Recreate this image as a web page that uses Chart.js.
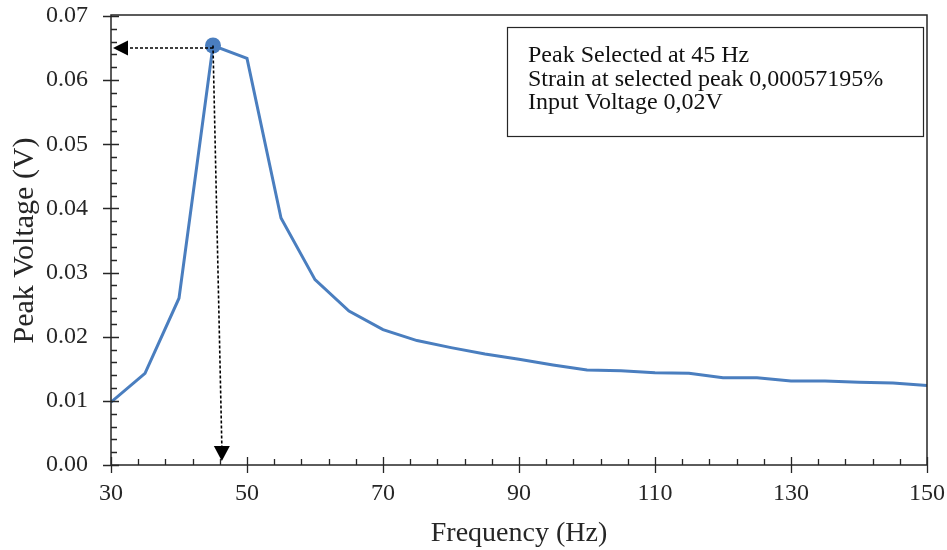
<!DOCTYPE html>
<html>
<head>
<meta charset="utf-8">
<script src="https://cdn.jsdelivr.net/npm/chart.js@4.4.1/dist/chart.umd.min.js"></script>
<style>
  html, body { margin: 0; padding: 0; background: #fff; }
  #wrap { width: 947px; height: 550px; }
</style>
</head>
<body>
<div id="wrap"><canvas id="peakChart" width="947" height="550"></canvas></div>
<script>
// frequency sweep, one reading every 5 Hz
const frequencies = [30, 35, 40, 45, 50, 55, 60, 65, 70, 75, 80, 85, 90, 95, 100,
                     105, 110, 115, 120, 125, 130, 135, 140, 145, 150];
const peakVoltages = [0.0098, 0.0143, 0.0260, 0.0654, 0.0634, 0.0385, 0.0289, 0.0240,
                      0.0211, 0.0194, 0.0183, 0.0173, 0.0165, 0.0156, 0.0148, 0.0147,
                      0.0144, 0.0143, 0.0136, 0.0136, 0.0131, 0.0131, 0.0129, 0.0128, 0.0124];

const xTickValues = [30, 50, 70, 90, 110, 130, 150];
const yTickValues = [0, 0.01, 0.02, 0.03, 0.04, 0.05, 0.06, 0.07];

const selectedFreq = 45;
const arrowLevel = 0.0650;     // where the horizontal arrow meets the axis
const arrowFreqEnd = 46.3;     // where the vertical arrow meets the axis
const noteLines = [
    'Peak Selected at 45 Hz',
    'Strain at selected peak 0,00057195%',
    'Input Voltage 0,02V'
];

const peakIndex = frequencies.indexOf(selectedFreq);
const lineColor = '#4a7ebf';
const inkColor = '#262626';
const serif = 'Liberation Serif';

// frame, tick marks (major cross the axis, minor inside only)
const framePlugin = {
    id: 'frame',
    afterDraw(chart) {
        const { ctx, chartArea: a, scales: { x, y } } = chart;
        ctx.save();
        ctx.strokeStyle = inkColor;
        ctx.lineWidth = 1.5;
        ctx.strokeRect(a.left, a.top - 1, a.right - a.left, a.bottom - a.top + 1);

        ctx.lineWidth = 1.3;
        ctx.beginPath();
        for (let v = 0; v <= 0.0701; v += 0.002) {
            const py = Math.round(y.getPixelForValue(v)) + 0.5;
            const major = Math.abs(v / 0.01 - Math.round(v / 0.01)) < 1e-6;
            ctx.moveTo(a.left - (major ? 8 : 0), py);
            ctx.lineTo(a.left + (major ? 8 : 6), py);
        }
        for (let f = 30; f <= 150; f += 4) {
            const px = Math.round(x.getPixelForValue(f)) + 0.5;
            const major = (f - 30) % 20 === 0;
            ctx.moveTo(px, a.bottom + (major ? 8 : 0));
            ctx.lineTo(px, a.bottom - (major ? 8 : 6));
        }
        ctx.stroke();

        // note box
        const bx = a.right - 420, by = a.top + 11, bw = 416, bh = 109;
        ctx.fillStyle = '#fff';
        ctx.fillRect(bx, by, bw, bh);
        ctx.lineWidth = 1.2;
        ctx.strokeRect(bx + 0.5, by + 0.5, bw, bh);
        ctx.fillStyle = '#111';
        ctx.font = '24px "' + serif + '"';
        ctx.textAlign = 'left';
        ctx.textBaseline = 'alphabetic';
        noteLines.forEach((t, i) => ctx.fillText(t, bx + 21, by + 35 + i * 23.5));
        ctx.restore();
    }
};

// dashed arrows from the selected peak to both axes
const arrowPlugin = {
    id: 'peakArrows',
    afterDatasetsDraw(chart) {
        const { ctx, scales: { x, y } } = chart;
        const px = x.getPixelForValue(selectedFreq);
        const py = y.getPixelForValue(peakVoltages[peakIndex]);
        const hy = y.getPixelForValue(arrowLevel);
        const hx = x.getPixelForValue(30) + 2;
        const vx = x.getPixelForValue(arrowFreqEnd);
        const vy = y.getPixelForValue(0) - 4;

        ctx.save();
        ctx.strokeStyle = '#000';
        ctx.fillStyle = '#000';
        ctx.lineWidth = 1.6;
        ctx.setLineDash([3, 2]);
        ctx.beginPath();
        ctx.moveTo(px, hy);
        ctx.lineTo(hx + 15, hy);
        ctx.moveTo(px, py);
        ctx.lineTo(vx, vy - 15);
        ctx.stroke();
        ctx.setLineDash([]);

        ctx.beginPath();
        ctx.moveTo(hx, hy);
        ctx.lineTo(hx + 15, hy - 7.5);
        ctx.lineTo(hx + 15, hy + 7.5);
        ctx.closePath();
        ctx.fill();

        ctx.beginPath();
        ctx.moveTo(vx, vy);
        ctx.lineTo(vx - 8, vy - 15);
        ctx.lineTo(vx + 8, vy - 15);
        ctx.closePath();
        ctx.fill();
        ctx.restore();
    }
};

new Chart(document.getElementById('peakChart'), {
    type: 'line',
    data: {
        datasets: [{
            data: frequencies.map((f, i) => ({ x: f, y: peakVoltages[i] })),
            borderColor: lineColor,
            backgroundColor: lineColor,
            borderWidth: 3,
            tension: 0,
            pointRadius: ctx => ctx.dataIndex === peakIndex ? 8 : 0,
            pointBorderWidth: 0,
            pointBackgroundColor: lineColor
        }]
    },
    options: {
        responsive: false,
        animation: false,
        devicePixelRatio: 1,
        layout: { padding: { top: 16, right: 20, left: 0, bottom: 0 } },
        scales: {
            x: {
                type: 'linear',
                min: 30,
                max: 150,
                afterBuildTicks: s => { s.ticks = xTickValues.map(v => ({ value: v })); },
                afterFit: s => { s.height = 85; s.paddingLeft = 0; s.paddingRight = 0; },
                grid: { display: false, drawTicks: false },
                border: { display: false },
                ticks: {
                    padding: 14,
                    color: inkColor,
                    font: { family: serif, size: 24 }
                },
                title: {
                    display: true,
                    text: 'Frequency (Hz)',
                    color: inkColor,
                    font: { family: serif, size: 28 },
                    padding: { top: 0, bottom: 0 }
                }
            },
            y: {
                min: 0,
                max: 0.07,
                afterBuildTicks: s => { s.ticks = yTickValues.map(v => ({ value: v })); },
                afterFit: s => { s.width = 111; s.paddingTop = 0; s.paddingBottom = 0; },
                grid: { display: false, drawTicks: false },
                border: { display: false },
                ticks: {
                    padding: 23,
                    color: inkColor,
                    font: { family: serif, size: 24 },
                    callback: v => v.toFixed(2)
                },
                title: {
                    display: true,
                    text: 'Peak Voltage (V)',
                    color: inkColor,
                    font: { family: serif, size: 30 },
                    padding: { top: 7, bottom: 0 }
                }
            }
        },
        plugins: {
            legend: { display: false },
            tooltip: { enabled: false }
        }
    },
    plugins: [arrowPlugin, framePlugin]
});
</script>
</body>
</html>
